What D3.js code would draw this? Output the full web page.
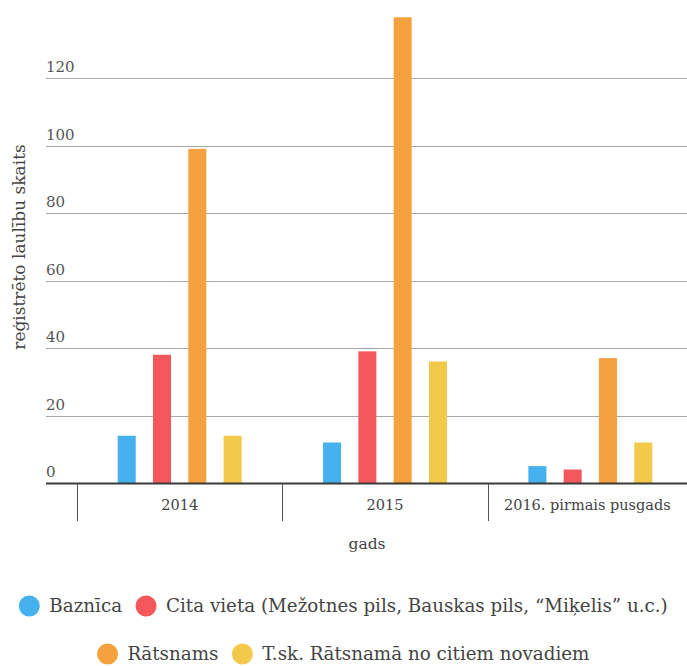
<!DOCTYPE html>
<html><head><meta charset="utf-8">
<script src="https://cdn.jsdelivr.net/npm/d3@7"></script>
<style>body{margin:0;background:#fff}svg{display:block}</style>
</head><body><svg id="c" width="687" height="666" font-family="'DejaVu Serif', 'Liberation Serif', serif"></svg>
<script>
const categories = ["2014", "2015", "2016. pirmais pusgads"];
const series = ["Baznīca", "Cita vieta (Mežotnes pils, Bauskas pils, “Miķelis” u.c.)", "Rātsnams", "T.sk. Rātsnamā no citiem novadiem"];
const colors = ["#45b1ef", "#f5585a", "#f5a13d", "#f2c94a"];
const baznica = [14, 12, 5];
const citaVieta = [38, 39, 4];
const ratsnams = [99, 138, 37];
const tsk = [14, 36, 12];
const yTicks = [0, 20, 40, 60, 80, 100, 120];
const values = [baznica, citaVieta, ratsnams, tsk];

const svg = d3.select("#c");
const y = d3.scaleLinear().domain([0, 120]).range([483, 78]);
const x = d3.scaleBand().domain(categories).range([77, 693]).paddingInner(0).paddingOuter(0);

// grid
const g = svg.append("g");
g.selectAll("line.grid").data(yTicks.filter(d => d > 0)).join("line")
  .attr("x1", 46).attr("x2", 687)
  .attr("y1", d => Math.round(y(d)) + 0.5).attr("y2", d => Math.round(y(d)) + 0.5)
  .attr("stroke", "#a8a8a8").attr("stroke-width", 1);
g.selectAll("text.tick").data(yTicks).join("text")
  .attr("x", 46).attr("y", d => y(d) - 6)
  .attr("font-size", 15).attr("fill", "#555").text(d => d);

// bars
categories.forEach((cat, ci) => {
  const c = x(cat) + x.bandwidth() / 2;
  const inner = d3.scaleBand().domain(series).range([c - 70.6, c + 70.6]).paddingInner(0.49).paddingOuter(0.245);
  series.forEach((s, si) => {
    const v = values[si][ci];
    svg.append("rect")
      .attr("x", inner(s)).attr("width", inner.bandwidth())
      .attr("y", y(v)).attr("height", y(0) - y(v))
      .attr("fill", colors[si]);
  });
});

// baseline
svg.append("line").attr("x1", 46).attr("x2", 687).attr("y1", 483.5).attr("y2", 483.5)
  .attr("stroke", "#3a3a3a").attr("stroke-width", 2);
// separators
const bounds = categories.map(c => x(c));
svg.selectAll("line.sep").data(bounds).join("line")
  .attr("x1", d => Math.round(d) + 0.5).attr("x2", d => Math.round(d) + 0.5)
  .attr("y1", 484).attr("y2", 521).attr("stroke", "#555").attr("stroke-width", 1);
svg.selectAll("text.cat").data(categories).join("text")
  .attr("x", d => x(d) + x.bandwidth() / 2 - (d.length > 5 ? 3 : 0)).attr("y", 510)
  .attr("text-anchor", "middle").attr("font-size", 14.5).attr("fill", "#444").text(d => d);

// axis titles
svg.append("text").attr("x", 367).attr("y", 549).attr("text-anchor", "middle")
  .attr("font-size", 15.5).attr("fill", "#444").text("gads");
svg.append("text").attr("transform", "translate(25,247) rotate(-90)").attr("text-anchor", "middle")
  .attr("font-size", 17).attr("fill", "#444").text("reģistrēto laulību skaits");

// legend
const rows = [[0, 1], [2, 3]];
const rowY = [606, 654];
rows.forEach((r, ri) => {
  const lg = svg.append("g");
  let cx = 0;
  r.forEach(si => {
    lg.append("circle").attr("cx", cx + 10).attr("cy", rowY[ri]).attr("r", 10.5).attr("fill", colors[si]);
    const t = lg.append("text").attr("x", cx + 30).attr("y", rowY[ri] + 6)
      .attr("font-size", 18.3).attr("fill", "#444").text(series[si]);
    cx += 30 + t.node().getComputedTextLength() + 14;
  });
  const w = cx - 14;
  lg.attr("transform", `translate(${(687 - w) / 2},0)`);
});
</script></body></html>
